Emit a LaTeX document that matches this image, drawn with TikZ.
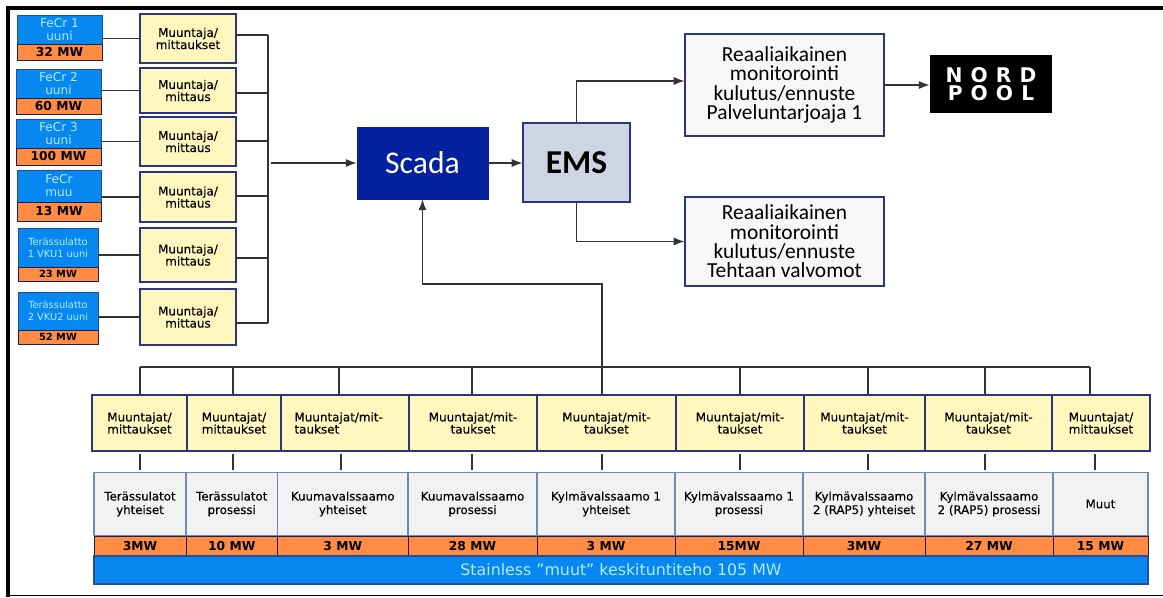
\documentclass[tikz,border=0pt]{standalone}
\usepackage{fontspec}
\setsansfont{DejaVu Sans}
\newfontfamily\calibrifont{Carlito}
\usepackage{xcolor}
\usetikzlibrary{arrows,arrows.meta,positioning}
\definecolor{furnaceblue}{HTML}{0688F0}
\definecolor{furnacetext}{HTML}{B4EBFF}
\definecolor{mworange}{HTML}{FF8C42}
\definecolor{meteryellow}{HTML}{FFF7BE}
\definecolor{loadgray}{HTML}{F2F2F2}
\definecolor{navyline}{HTML}{2E3580}
\definecolor{paleline}{HTML}{7088B8}
\definecolor{scadablue}{HTML}{0422A0}
\definecolor{emsgray}{HTML}{CDD5E5}
\definecolor{wiregray}{HTML}{333333}

\begin{document}
\begin{tikzpicture}[
    % GLOBAL CFG
    font=\sffamily,
    >=LaTeX,
    % Styles
    furnace/.style={% For the blue furnace boxes
        rectangle,
        draw=navyline!70!furnaceblue,
        fill=furnaceblue,
        text=furnacetext,
        align=center,
        inner sep=0pt,
        font=\fontsize{6.9}{7.4}\selectfont\sffamily,
        },
    furnacesmall/.style={% For the long furnace names
        furnace,
        font=\fontsize{5.6}{6.8}\selectfont\sffamily,
        },
    power/.style={% For the orange MW strips
        rectangle,
        draw=navyline!60!black,
        fill=mworange,
        inner sep=0pt,
        font=\fontsize{7}{8}\selectfont\sffamily\bfseries,
        },
    powersmall/.style={
        power,
        font=\fontsize{5.6}{7}\selectfont\sffamily\bfseries,
        },
    meter/.style={% For the yellow boxes
        rectangle,
        draw=navyline,
        semithick,
        fill=meteryellow,
        align=center,
        inner sep=0pt,
        font=\fontsize{6.8}{6.9}\selectfont\sffamily\addfontfeatures{FakeBold=0.3},
        },
    load/.style={% For the gray boxes
        rectangle,
        draw=paleline,
        thick,
        fill=loadgray,
        align=center,
        inner sep=0pt,
        minimum height=1.27cm,
        font=\fontsize{6.7}{7.7}\selectfont\sffamily\addfontfeatures{FakeBold=0.3},
        },
    report/.style={% For the monitoring boxes
        rectangle,
        draw=navyline,
        semithick,
        fill=white!97!black,
        align=center,
        minimum width=3.98cm,
        font=\fontsize{12.2}{11}\selectfont\calibrifont,
        },
    wire/.style={% Plain lines
        line width=.7pt,
        draw=wiregray,
        },
    stub/.style={% Short lines under the yellow boxes
        wire,
        shorten >=.03cm,
        shorten <=.04cm,
        },
    ]

    \useasboundingbox (0,0) rectangle (23.26,11.94);

    % Draw the frame
    \draw [line width=.08cm] (.16,0) -- (.16,11.78) -- (23.26,11.78);
    \draw [thick] (.16,.03) -- (23.26,.03);

    % Draw furnaces named fecr#, with power strips named fmw#
    \node [furnace, minimum width=1.70cm, minimum height=.58cm] (fecr1) at (1.19,11.35) {FeCr 1\\uuni};
    \node [power, minimum width=1.70cm, minimum height=.32cm] (fmw1) at (1.19,10.90) {32 MW};
    \node [furnace, minimum width=1.70cm, minimum height=.58cm] (fecr2) at (1.17,10.27) {FeCr 2\\uuni};
    \node [power, minimum width=1.70cm, minimum height=.32cm] (fmw2) at (1.17,9.82) {60 MW};
    \node [furnace, minimum width=1.70cm, minimum height=.58cm] (fecr3) at (1.17,9.27) {FeCr 3\\uuni};
    \node [power, minimum width=1.70cm, minimum height=.34cm] (fmw3) at (1.17,8.81) {100 MW};
    \node [furnace, minimum width=1.68cm, minimum height=.64cm] (fecr4) at (1.18,8.22) {FeCr\\muu};
    \node [power, minimum width=1.68cm, minimum height=.38cm] (fmw4) at (1.18,7.71) {13 MW};
    \node [furnacesmall, minimum width=1.60cm, minimum height=.78cm] (fecr5) at (1.16,6.99) {Terässulatto\\1 VKU1 uuni};
    \node [powersmall, minimum width=1.60cm, minimum height=.28cm] (fmw5) at (1.16,6.46) {23 MW};
    \node [furnacesmall, minimum width=1.60cm, minimum height=.76cm] (fecr6) at (1.16,5.72) {Terässulatto\\2 VKU2 uuni};
    \node [powersmall, minimum width=1.60cm, minimum height=.28cm] (fmw6) at (1.16,5.20) {52 MW};

    % Draw yellow boxes of the furnaces named meter#
    \node [meter, minimum width=1.92cm, minimum height=.98cm] (meter1) at (3.76,11.17) {Muuntaja/\\mittaukset};
    \node [meter, minimum width=1.92cm, minimum height=.90cm] (meter2) at (3.76,10.13) {Muuntaja/\\mittaus};
    \node [meter, minimum width=1.92cm, minimum height=.98cm] (meter3) at (3.76,9.11) {Muuntaja/\\mittaus};
    \node [meter, minimum width=1.92cm, minimum height=1.00cm] (meter4) at (3.76,8.00) {Muuntaja/\\mittaus};
    \node [meter, minimum width=1.92cm, minimum height=1.08cm] (meter5) at (3.76,6.84) {Muuntaja/\\mittaus};
    \node [meter, minimum width=1.92cm, minimum height=1.12cm] (meter6) at (3.76,5.60) {Muuntaja/\\mittaus};

    % Draw the middle blocks
    \node [rectangle, draw=scadablue, fill=scadablue, text=white, minimum width=2.62cm, minimum height=1.44cm, font=\fontsize{18}{20}\selectfont\calibrifont] (scada) at (8.45,8.68) {Scada};
    \node [rectangle, draw=navyline, semithick, fill=emsgray, minimum width=2.14cm, minimum height=1.58cm, font=\fontsize{19}{22}\selectfont\calibrifont\bfseries] (ems) at (11.53,8.69) {EMS};
    \node [report, minimum height=2.04cm] (report1) at (15.69,10.24) {Reaaliaikainen\\monitorointi\\kulutus/ennuste\\Palveluntarjoaja 1};
    \node [report, minimum height=1.78cm] (report2) at (15.69,7.11) {Reaaliaikainen\\monitorointi\\kulutus/ennuste\\Tehtaan valvomot};
    \node [rectangle, fill=black, text=white, align=center, minimum width=2.44cm, minimum height=1.16cm, font=\fontsize{11.5}{10.4}\selectfont\sffamily\bfseries\addfontfeatures{LetterSpace=40}] (nord) at (19.82,10.26) {NORD\\POOL};

    % Draw yellow boxes of the lines named trafo#
    \node [meter, minimum width=1.90cm, minimum height=1.12cm] (trafo1) at (2.79,3.48) {Muuntajat/\\mittaukset};
    \node [meter, minimum width=1.88cm, minimum height=1.12cm] (trafo2) at (4.68,3.48) {Muuntajat/\\mittaukset};
    \node [meter, minimum width=2.56cm, minimum height=1.12cm, text width=2.02cm, align=left] (trafo3) at (6.90,3.48) {Muuntajat/mit-\\taukset};
    \node [meter, minimum width=2.56cm, minimum height=1.12cm] (trafo4) at (9.46,3.48) {Muuntajat/mit-\\taukset};
    \node [meter, minimum width=2.78cm, minimum height=1.12cm] (trafo5) at (12.13,3.48) {Muuntajat/mit-\\taukset};
    \node [meter, minimum width=2.56cm, minimum height=1.12cm] (trafo6) at (14.80,3.48) {Muuntajat/mit-\\taukset};
    \node [meter, minimum width=2.42cm, minimum height=1.12cm] (trafo7) at (17.29,3.48) {Muuntajat/mit-\\taukset};
    \node [meter, minimum width=2.54cm, minimum height=1.12cm] (trafo8) at (19.77,3.48) {Muuntajat/mit-\\taukset};
    \node [meter, minimum width=1.96cm, minimum height=1.12cm] (trafo9) at (22.02,3.48) {Muuntajat/\\mittaukset};

    % Draw gray boxes named load#
    \node [load, minimum width=1.84cm] (load1) at (2.80,1.86) {Terässulatot\\yhteiset};
    \node [load, minimum width=1.83cm] (load2) at (4.635,1.86) {Terässulatot\\prosessi};
    \node [load, minimum width=2.61cm] (load3) at (6.855,1.86) {Kuumavalssaamo\\yhteiset};
    \node [load, minimum width=2.58cm] (load4) at (9.45,1.86) {Kuumavalssaamo\\prosessi};
    \node [load, minimum width=2.76cm] (load5) at (12.12,1.86) {Kylmävalssaamo 1\\yhteiset};
    \node [load, minimum width=2.56cm] (load6) at (14.78,1.86) {Kylmävalssaamo 1\\prosessi};
    \node [load, minimum width=2.44cm] (load7) at (17.28,1.86) {Kylmävalssaamo\\2 (RAP5) yhteiset};
    \node [load, minimum width=2.56cm] (load8) at (19.78,1.86) {Kylmävalssaamo\\2 (RAP5) prosessi};
    \node [load, minimum width=1.90cm] (load9) at (22.01,1.86) {Muut};

    % Draw power strips named lmw#
    \node [power, minimum width=1.84cm, minimum height=.40cm] (lmw1) at (2.80,1.02) {3MW};
    \node [power, minimum width=1.83cm, minimum height=.40cm] (lmw2) at (4.635,1.02) {10 MW};
    \node [power, minimum width=2.61cm, minimum height=.40cm] (lmw3) at (6.855,1.02) {3 MW};
    \node [power, minimum width=2.58cm, minimum height=.40cm] (lmw4) at (9.45,1.02) {28 MW};
    \node [power, minimum width=2.76cm, minimum height=.40cm] (lmw5) at (12.12,1.02) {3 MW};
    \node [power, minimum width=2.56cm, minimum height=.40cm] (lmw6) at (14.78,1.02) {15MW};
    \node [power, minimum width=2.44cm, minimum height=.40cm] (lmw7) at (17.28,1.02) {3MW};
    \node [power, minimum width=2.56cm, minimum height=.40cm] (lmw8) at (19.78,1.02) {27 MW};
    \node [power, minimum width=1.90cm, minimum height=.40cm] (lmw9) at (22.01,1.02) {15 MW};

    % Total bar
    \node [furnace, thick, minimum width=21.08cm, minimum height=.56cm, font=\fontsize{9}{11}\selectfont\sffamily] (total) at (12.42,.54) {Stainless ”muut” keskituntiteho 105 MW};

    % Start connecting all.
    % Furnaces to yellow boxes
    \draw [wire] (meter1.west -| fecr1.east) -- (meter1.west);
    \draw [wire] (meter2.west -| fecr2.east) -- (meter2.west);
    \draw [wire] (meter3.west -| fecr3.east) -- (meter3.west);
    \draw [wire] (meter4.west -| fecr4.east) -- (meter4.west);
    \draw [wire] (meter5.west -| fecr5.east) -- (meter5.west);
    \draw [wire] (meter6.west -| fecr6.east) -- (meter6.west);

    % Collector on the right of the yellow boxes
    \coordinate (tap1) at (5.36,11.24);
    \coordinate (tap2) at (5.36,10.08);
    \coordinate (tap3) at (5.36,9.12);
    \coordinate (tap4) at (5.36,8.02);
    \coordinate (tap5) at (5.36,6.78);
    \coordinate (tap6) at (5.36,5.48);
    \coordinate (feed) at (5.41,8.68);
    \draw [wire] (tap1) -- (tap6);
    \draw [wire] (tap1 -| meter1.east) -- (tap1);
    \draw [wire] (tap2 -| meter2.east) -- (tap2);
    \draw [wire] (tap3 -| meter3.east) -- (tap3);
    \draw [wire] (tap4 -| meter4.east) -- (tap4);
    \draw [wire] (tap5 -| meter5.east) -- (tap5);
    \draw [wire] (tap6 -| meter6.east) -- (tap6);
    \draw [->, wire] (feed) -- (scada.west);

    % Middle arrows
    \draw [->, wire] (scada.east) -- (ems.west |- scada.east);
    \draw [->, wire] (ems.north) |- ([yshift=.08cm]report1.west);
    \draw [->, wire] (ems.south) |- (report2.west);
    \draw [->, wire] (report1.east) -- (report1.east -| nord.west);

    % Bus above the lower row
    \coordinate (bus1) at (2.80,4.60);
    \coordinate (bus2) at (4.66,4.60);
    \coordinate (bus3) at (6.78,4.60);
    \coordinate (bus4) at (9.44,4.60);
    \coordinate (bus5) at (12.04,4.60);
    \coordinate (bus6) at (14.80,4.60);
    \coordinate (bus7) at (17.36,4.60);
    \coordinate (bus8) at (19.70,4.60);
    \coordinate (bus9) at (21.80,4.60);
    \draw [wire] (bus1) -- (bus9);
    \draw [wire] (bus1) -- (bus1 |- trafo1.north);
    \draw [wire] (bus2) -- (bus2 |- trafo2.north);
    \draw [wire] (bus3) -- (bus3 |- trafo3.north);
    \draw [wire] (bus4) -- (bus4 |- trafo4.north);
    \draw [wire] (bus5) -- (bus5 |- trafo5.north);
    \draw [wire] (bus6) -- (bus6 |- trafo6.north);
    \draw [wire] (bus7) -- (bus7 |- trafo7.north);
    \draw [wire] (bus8) -- (bus8 |- trafo8.north);
    \draw [wire] (bus9) -- (bus9 |- trafo9.north);
    \draw [->, wire] (bus5) -- ++(0,1.66) -| (scada.south);

    % Yellow boxes to gray boxes
    \draw [stub] (bus1 |- trafo1.south) -- (bus1 |- load1.north);
    \draw [stub] (bus2 |- trafo2.south) -- (bus2 |- load2.north);
    \draw [stub] ([xshift=.04cm]bus3 |- trafo3.south) -- ([xshift=.04cm]bus3 |- load3.north);
    \draw [stub] (bus4 |- trafo4.south) -- (bus4 |- load4.north);
    \draw [stub] (bus5 |- trafo5.south) -- (bus5 |- load5.north);
    \draw [stub] (bus6 |- trafo6.south) -- (bus6 |- load6.north);
    \draw [stub] (bus7 |- trafo7.south) -- (bus7 |- load7.north);
    \draw [stub] (bus8 |- trafo8.south) -- (bus8 |- load8.north);
    \draw [stub] ([xshift=.10cm]bus9 |- trafo9.south) -- ([xshift=.10cm]bus9 |- load9.north);

\end{tikzpicture}
\end{document}
